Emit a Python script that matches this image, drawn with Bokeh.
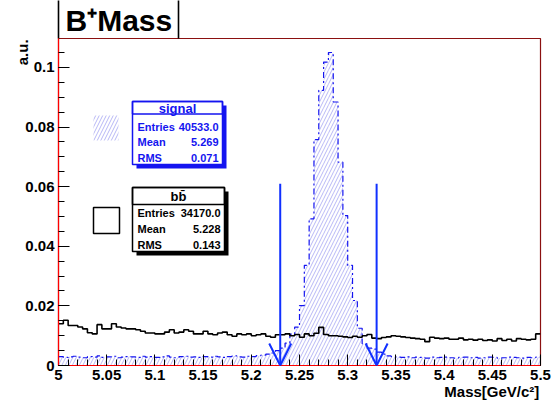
import math
import numpy as np
from bokeh.plotting import figure
from bokeh.models import (FixedTicker, Label, BoxAnnotation, Arrow, OpenHead, Range1d,
                          LinearAxis)
from bokeh.embed import file_html
from bokeh.resources import INLINE

# ---- binning -------------------------------------------------------------
mass_lo, mass_hi, n_bins = 5.0, 5.5, 100

# normalised B+ mass, signal sample (per 0.005 GeV/c^2 bin)
signal = [
    0.0030, 0.0027, 0.0029, 0.0031, 0.0028, 0.0026, 0.0030, 0.0028, 0.0032, 0.0027,
    0.0029, 0.0031, 0.0026, 0.0028, 0.0030, 0.0029, 0.0027, 0.0031, 0.0028, 0.0030,
    0.0027, 0.0029, 0.0032, 0.0028, 0.0026, 0.0030, 0.0031, 0.0028, 0.0029, 0.0027,
    0.0030, 0.0028, 0.0031, 0.0029, 0.0027, 0.0030, 0.0032, 0.0029, 0.0028, 0.0031,
    0.0030, 0.0033, 0.0035, 0.0038, 0.0042, 0.0050, 0.0058, 0.0075, 0.0105, 0.0129,
    0.0201, 0.0336, 0.0492, 0.0758, 0.0923, 0.1018, 0.1050, 0.0884, 0.0682, 0.0503,
    0.0336, 0.0218, 0.0125, 0.0073, 0.0058, 0.0055, 0.0045, 0.0038, 0.0032, 0.0030,
    0.0028, 0.0027, 0.0029, 0.0026, 0.0028, 0.0027, 0.0025, 0.0028, 0.0026, 0.0027,
    0.0028, 0.0026, 0.0025, 0.0027, 0.0028, 0.0026, 0.0027, 0.0025, 0.0026, 0.0028,
    0.0027, 0.0025, 0.0026, 0.0028, 0.0027, 0.0026, 0.0025, 0.0027, 0.0026, 0.0028,
]

# normalised B+ mass, b-bbar background sample
bbbar = [
    0.0140, 0.0152, 0.0134, 0.0134, 0.0129, 0.0123, 0.0110, 0.0106, 0.0137, 0.0123,
    0.0123, 0.0140, 0.0129, 0.0126, 0.0123, 0.0123, 0.0120, 0.0115, 0.0109, 0.0109,
    0.0106, 0.0106, 0.0112, 0.0120, 0.0109, 0.0112, 0.0120, 0.0115, 0.0106, 0.0106,
    0.0115, 0.0106, 0.0103, 0.0109, 0.0112, 0.0103, 0.0098, 0.0106, 0.0103, 0.0106,
    0.0100, 0.0103, 0.0106, 0.0098, 0.0095, 0.0103, 0.0103, 0.0106, 0.0100, 0.0104,
    0.0095, 0.0106, 0.0100, 0.0108, 0.0128, 0.0104, 0.0100, 0.0100, 0.0098, 0.0096,
    0.0094, 0.0098, 0.0095, 0.0100, 0.0104, 0.0092, 0.0090, 0.0094, 0.0096, 0.0100,
    0.0098, 0.0096, 0.0094, 0.0092, 0.0090, 0.0088, 0.0080, 0.0095, 0.0092, 0.0090,
    0.0092, 0.0088, 0.0088, 0.0092, 0.0086, 0.0088, 0.0085, 0.0088, 0.0084, 0.0086,
    0.0082, 0.0090, 0.0084, 0.0088, 0.0082, 0.0090, 0.0088, 0.0086, 0.0088, 0.0106,
]

# mass window cuts
cut_positions = [5.23, 5.33]
cut_arrow_top = 0.061

# statistics boxes
stat_names = ["Entries", "Mean", "RMS"]
signal_stats = ["40533.0", "5.269", "0.071"]
bbbar_stats = ["34170.0", "5.228", "0.143"]

# axes
x_major = [5.0, 5.05, 5.1, 5.15, 5.2, 5.25, 5.3, 5.35, 5.4, 5.45, 5.5]
x_labels = ["5", "5.05", "5.1", "5.15", "5.2", "5.25", "5.3", "5.35", "5.4", "5.45", "5.5"]
y_major = [0.0, 0.02, 0.04, 0.06, 0.08, 0.1]
y_labels = ["0", "0.02", "0.04", "0.06", "0.08", "0.1"]
y_top = 0.1097
x_title, x_title_at = "Mass[GeV/c²]", 5.4495
y_title, y_title_at = "a.u.", 0.1094
plot_title, plot_title_at = "B\u207aMass", 5.0626
title_pave_edges = [5.0, 5.1245]

# ---- layout (pixels) ----------------------------------------------------
W, H = 560, 408
FL, FR, FT, FB = 58, 540, 38, 365
FONT = "Liberation Sans"
BLUE = "#1414f0"
HATCH = "#a4a4f2"


def sx(px):
    return px - FL


def sy(py):
    return FB - py


edges = np.linspace(mass_lo, mass_hi, n_bins + 1)

p = figure(width=W, height=H, output_backend="svg", toolbar_location=None,
           x_range=Range1d(mass_lo, mass_hi), y_range=Range1d(0, y_top),
           min_border_left=FL, min_border_right=W - FR,
           min_border_top=FT, min_border_bottom=H - FB)
p.xgrid.visible = False
p.ygrid.visible = False
p.background_fill_color = "white"
p.border_fill_color = "white"
p.outline_line_color = "#8b1010"
p.outline_line_width = 1.2

# signal: hatched area with dash-dot contour
p.quad(left=edges[:-1], right=edges[1:], bottom=0, top=signal,
       fill_alpha=0, line_alpha=0,
       hatch_pattern="/", hatch_color=HATCH, hatch_scale=7, hatch_weight=0.8)
p.step(x=edges, y=signal + [signal[-1]], mode="after",
       line_color=BLUE, line_width=1.2, line_dash="6 3 2 3")

# background: solid black contour
p.step(x=edges, y=bbbar + [bbbar[-1]], mode="after",
       line_color="black", line_width=1.6)

# cut arrows
for xc in cut_positions:
    p.add_layout(Arrow(x_start=xc, y_start=cut_arrow_top, x_end=xc, y_end=0,
                       line_color="#1030ff", line_width=2,
                       end=OpenHead(size=22, line_color="#1030ff", line_width=2)))

# axes styling
x_minor = [round(mass_lo + 0.01 * i, 3) for i in range(51)]
y_minor = [round(0.005 * i, 4) for i in range(23)]
p.xaxis.ticker = FixedTicker(ticks=x_major, minor_ticks=x_minor)
p.yaxis.ticker = FixedTicker(ticks=y_major, minor_ticks=y_minor)
p.xaxis.major_label_overrides = dict(zip(x_major, x_labels))
p.yaxis.major_label_overrides = dict(zip(y_major, y_labels))


def text_axis(ax, size, standoff):
    ax.axis_line_color = None
    ax.major_tick_line_color = None
    ax.minor_tick_line_color = None
    ax.major_tick_out = 0
    ax.major_tick_in = 0
    ax.minor_tick_out = 0
    ax.minor_tick_in = 0
    ax.major_label_standoff = standoff
    ax.major_label_text_font = FONT
    ax.major_label_text_font_style = "bold"
    ax.major_label_text_font_size = size
    ax.major_label_text_color = "black"


for ax in (p.xaxis[0], p.yaxis[0]):
    ax.axis_line_color = "red"
    ax.axis_line_width = 1.2
    ax.major_tick_in = 11
    ax.major_tick_out = 0
    ax.minor_tick_in = 6
    ax.minor_tick_out = 0
    ax.major_tick_line_color = "black"
    ax.minor_tick_line_color = "black"
    ax.major_label_text_font = FONT
    ax.major_label_text_font_style = "bold"
    ax.major_label_text_font_size = "15px"
    ax.major_label_text_color = "black"
    ax.major_label_standoff = 4

# axis titles, carried by label-only axes stacked outside the main ones
x_title_axis = LinearAxis(ticker=FixedTicker(ticks=[x_title_at], minor_ticks=[]),
                          major_label_overrides={x_title_at: x_title})
text_axis(x_title_axis, "15px", 0)
p.add_layout(x_title_axis, "below")

y_title_axis = LinearAxis(ticker=FixedTicker(ticks=[y_title_at], minor_ticks=[]),
                          major_label_overrides={y_title_at: y_title},
                          major_label_orientation=math.pi / 2)
text_axis(y_title_axis, "15px", 0)
p.add_layout(y_title_axis, "left")

# title pave above the frame: label plus the two side edges drawn as minor ticks
title_axis = LinearAxis(ticker=FixedTicker(ticks=[plot_title_at], minor_ticks=title_pave_edges),
                        major_label_overrides={plot_title_at: plot_title})
text_axis(title_axis, "30px", 2 - FT)
title_axis.minor_tick_line_color = "black"
title_axis.minor_tick_line_width = 1.6
title_axis.minor_tick_out = FT
p.add_layout(title_axis, "above")


def box(left, right, top, bottom, **kw):
    return BoxAnnotation(left=sx(left), right=sx(right), top=sy(top), bottom=sy(bottom),
                         left_units="screen", right_units="screen",
                         top_units="screen", bottom_units="screen", **kw)


def text(x, y, s, color, size="11px", align="left"):
    return Label(x=sx(x), y=sy(y), x_units="screen", y_units="screen", text=s,
                 text_align=align, text_baseline="middle", text_color=color,
                 text_font=FONT, text_font_style="bold", text_font_size=size)


def stat_box(top, sep, bottom, right, title, values, color, rows_y, title_y):
    left = 132
    p.add_layout(box(left + 4, right + 4, top + 4, bottom + 4,
                     fill_color=color, fill_alpha=1, line_alpha=0))
    p.add_layout(box(left, right, top, bottom, fill_color="white", fill_alpha=1,
                     line_color=color, line_alpha=1, line_width=1.5))
    p.add_layout(box(left, right, top, sep, fill_alpha=0,
                     line_color=color, line_alpha=1, line_width=1.5))
    p.add_layout(text((left + right) / 2, title_y, title, color, "13px", "center"))
    for name, val, yy in zip(stat_names, values, rows_y):
        p.add_layout(text(137, yy, name, color))
        p.add_layout(text(right - 4, yy, val, color, align="right"))


stat_box(101, 113.5, 164, 222, "signal", signal_stats, BLUE, [126.5, 141, 157], 107.5)
stat_box(187, 204, 251, 224, "bb\u0304", bbbar_stats, "black", [212, 228, 244], 196)

# legend swatches
p.add_layout(box(93, 118, 115, 140, fill_alpha=0, line_alpha=0,
                 hatch_pattern="/", hatch_color=HATCH, hatch_scale=7, hatch_weight=0.8))
p.add_layout(box(93, 119, 207, 233, fill_alpha=0, line_color="black",
                 line_alpha=1, line_width=1.5))

open("out.html", "w").write(file_html(p, INLINE))
